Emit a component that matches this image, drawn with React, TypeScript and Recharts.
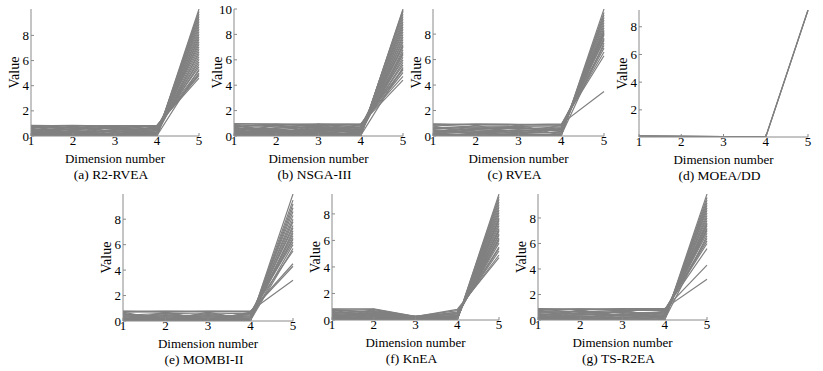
import { LineChart, Line, XAxis, YAxis } from "recharts";

// parallel coordinates: each row is one solution, values on dimensions 1..5
const dims = [1, 2, 3, 4, 5];

const r2rvea = [
  [0.84, 0.8, 0.82, 0.85, 4.6],
  [0.8, 0.84, 0.78, 0.82, 4.8],
  [0.66, 0.82, 0.65, 0.84, 4.9],
  [0.78, 0.62, 0.8, 0.7, 5.0],
  [0.05, 0.82, 0.06, 0.8, 5.2],
  [0.82, 0.06, 0.8, 0.04, 5.3],
  [0.62, 0.7, 0.55, 0.78, 5.5],
  [0.7, 0.55, 0.72, 0.52, 5.7],
  [0.3, 0.76, 0.28, 0.7, 5.9],
  [0.75, 0.28, 0.7, 0.3, 6.1],
  [0.5, 0.5, 0.62, 0.45, 6.3],
  [0.55, 0.12, 0.48, 0.6, 6.5],
  [0.15, 0.6, 0.58, 0.18, 6.7],
  [0.42, 0.35, 0.4, 0.38, 6.9],
  [0.6, 0.2, 0.1, 0.55, 7.1],
  [0.22, 0.45, 0.3, 0.62, 7.3],
  [0.38, 0.15, 0.52, 0.25, 7.5],
  [0.1, 0.3, 0.15, 0.42, 7.7],
  [0.45, 0.05, 0.22, 0.12, 7.9],
  [0.18, 0.4, 0.05, 0.28, 8.1],
  [0.28, 0.22, 0.35, 0.06, 8.3],
  [0.06, 0.18, 0.42, 0.15, 8.5],
  [0.35, 0.08, 0.12, 0.2, 8.7],
  [0.12, 0.26, 0.08, 0.08, 8.9],
  [0.24, 0.1, 0.2, 0.03, 9.1],
  [0.04, 0.12, 0.25, 0.1, 9.3],
  [0.14, 0.04, 0.06, 0.14, 9.5],
  [0.08, 0.14, 0.03, 0.05, 9.7],
  [0.03, 0.06, 0.1, 0.02, 9.9],
  [0.02, 0.02, 0.02, 0.01, 10.1],
];

const nsga3 = [
  [0.98, 0.9, 0.95, 0.92, 4.4],
  [0.95, 0.96, 0.9, 0.96, 4.7],
  [0.9, 0.7, 0.92, 0.85, 5.0],
  [0.05, 0.92, 0.1, 0.94, 5.2],
  [0.75, 0.92, 0.78, 0.9, 5.3],
  [0.92, 0.08, 0.94, 0.05, 5.4],
  [0.72, 0.85, 0.6, 0.8, 5.6],
  [0.8, 0.45, 0.85, 0.6, 5.8],
  [0.4, 0.8, 0.35, 0.88, 6.0],
  [0.85, 0.3, 0.7, 0.4, 6.2],
  [0.6, 0.6, 0.75, 0.5, 6.4],
  [0.35, 0.38, 0.58, 0.35, 6.5],
  [0.65, 0.15, 0.5, 0.7, 6.6],
  [0.2, 0.65, 0.68, 0.2, 6.8],
  [0.5, 0.42, 0.45, 0.45, 7.0],
  [0.58, 0.55, 0.2, 0.55, 7.1],
  [0.7, 0.25, 0.12, 0.65, 7.2],
  [0.28, 0.5, 0.3, 0.72, 7.4],
  [0.45, 0.18, 0.62, 0.28, 7.6],
  [0.12, 0.35, 0.18, 0.5, 7.8],
  [0.55, 0.05, 0.25, 0.15, 8.0],
  [0.22, 0.48, 0.06, 0.32, 8.2],
  [0.32, 0.28, 0.4, 0.08, 8.4],
  [0.08, 0.2, 0.52, 0.18, 8.6],
  [0.42, 0.1, 0.15, 0.25, 8.8],
  [0.15, 0.3, 0.08, 0.1, 9.0],
  [0.3, 0.12, 0.22, 0.04, 9.2],
  [0.05, 0.15, 0.32, 0.12, 9.4],
  [0.18, 0.04, 0.05, 0.16, 9.6],
  [0.1, 0.16, 0.04, 0.06, 9.8],
  [0.03, 0.06, 0.12, 0.02, 9.9],
  [0.02, 0.02, 0.02, 0.01, 10.0],
];

const rvea = [
  [0.92, 0.88, 0.9, 0.95, 3.5],
  [0.95, 0.9, 0.85, 0.9, 6.3],
  [0.85, 0.95, 0.92, 0.85, 6.6],
  [0.88, 0.7, 0.75, 0.8, 6.9],
  [0.06, 0.85, 0.1, 0.88, 7.1],
  [0.8, 0.08, 0.88, 0.06, 7.3],
  [0.7, 0.6, 0.55, 0.72, 7.5],
  [0.6, 0.5, 0.35, 0.65, 7.6],
  [0.55, 0.72, 0.65, 0.5, 7.7],
  [0.4, 0.3, 0.7, 0.35, 7.9],
  [0.3, 0.6, 0.6, 0.38, 8.0],
  [0.65, 0.4, 0.25, 0.6, 8.1],
  [0.5, 0.26, 0.45, 0.5, 8.2],
  [0.25, 0.5, 0.4, 0.45, 8.3],
  [0.45, 0.15, 0.5, 0.2, 8.5],
  [0.15, 0.35, 0.18, 0.3, 8.7],
  [0.35, 0.22, 0.08, 0.12, 8.9],
  [0.1, 0.12, 0.3, 0.22, 9.1],
  [0.2, 0.05, 0.15, 0.08, 9.3],
  [0.05, 0.18, 0.05, 0.15, 9.5],
  [0.12, 0.08, 0.1, 0.04, 9.7],
  [0.03, 0.04, 0.03, 0.03, 9.97],
];

const moeadd = [
  [0.12, 0.09, 0.06, 0.04, 9.2],
  [0.11, 0.08, 0.06, 0.05, 9.18],
  [0.12, 0.1, 0.07, 0.05, 9.21],
];

const mombi2 = [
  [0.78, 0.78, 0.78, 0.78, 3.2],
  [0.75, 0.7, 0.76, 0.74, 4.3],
  [0.7, 0.75, 0.72, 0.76, 4.5],
  [0.05, 0.7, 0.05, 0.7, 5.5],
  [0.7, 0.05, 0.7, 0.05, 5.7],
  [0.6, 0.15, 0.6, 0.15, 6.0],
  [0.15, 0.6, 0.15, 0.6, 6.2],
  [0.45, 0.6, 0.55, 0.62, 6.4],
  [0.5, 0.3, 0.5, 0.3, 6.5],
  [0.3, 0.5, 0.3, 0.5, 6.7],
  [0.4, 0.4, 0.4, 0.4, 6.9],
  [0.55, 0.05, 0.45, 0.1, 7.1],
  [0.05, 0.45, 0.1, 0.55, 7.3],
  [0.25, 0.25, 0.25, 0.25, 7.5],
  [0.35, 0.1, 0.35, 0.1, 7.8],
  [0.1, 0.35, 0.1, 0.35, 8.0],
  [0.2, 0.05, 0.2, 0.05, 8.3],
  [0.05, 0.2, 0.05, 0.2, 8.6],
  [0.12, 0.12, 0.12, 0.12, 8.9],
  [0.08, 0.03, 0.08, 0.03, 9.2],
  [0.03, 0.08, 0.03, 0.08, 9.5],
  [0.02, 0.02, 0.02, 0.02, 9.98],
];

const knea = [
  [0.85, 0.8, 0.25, 0.8, 4.7],
  [0.8, 0.85, 0.28, 0.7, 4.9],
  [0.7, 0.6, 0.22, 0.6, 5.2],
  [0.75, 0.65, 0.28, 0.55, 5.4],
  [0.05, 0.8, 0.2, 0.5, 5.5],
  [0.78, 0.1, 0.3, 0.4, 5.8],
  [0.6, 0.5, 0.18, 0.35, 6.0],
  [0.55, 0.45, 0.24, 0.45, 6.1],
  [0.5, 0.7, 0.25, 0.3, 6.2],
  [0.28, 0.62, 0.16, 0.32, 6.4],
  [0.4, 0.3, 0.15, 0.28, 6.5],
  [0.3, 0.55, 0.22, 0.25, 6.7],
  [0.48, 0.38, 0.22, 0.26, 6.8],
  [0.65, 0.25, 0.2, 0.2, 6.9],
  [0.2, 0.4, 0.12, 0.22, 7.1],
  [0.45, 0.15, 0.26, 0.15, 7.3],
  [0.15, 0.2, 0.1, 0.18, 7.5],
  [0.22, 0.48, 0.14, 0.14, 7.6],
  [0.35, 0.05, 0.2, 0.12, 7.7],
  [0.1, 0.35, 0.08, 0.1, 7.9],
  [0.25, 0.12, 0.18, 0.08, 8.1],
  [0.08, 0.25, 0.12, 0.06, 8.3],
  [0.18, 0.08, 0.06, 0.05, 8.5],
  [0.05, 0.15, 0.15, 0.04, 8.7],
  [0.12, 0.04, 0.05, 0.03, 8.9],
  [0.03, 0.1, 0.04, 0.02, 9.1],
  [0.06, 0.03, 0.03, 0.02, 9.3],
  [0.02, 0.02, 0.02, 0.01, 9.5],
];

const tsr2ea = [
  [0.88, 0.85, 0.9, 0.9, 3.2],
  [0.9, 0.8, 0.85, 0.85, 4.3],
  [0.82, 0.88, 0.8, 0.8, 5.6],
  [0.75, 0.85, 0.75, 0.82, 6.0],
  [0.85, 0.6, 0.78, 0.75, 6.2],
  [0.05, 0.8, 0.08, 0.7, 6.4],
  [0.78, 0.06, 0.8, 0.06, 6.6],
  [0.6, 0.7, 0.55, 0.62, 6.8],
  [0.7, 0.4, 0.65, 0.45, 7.0],
  [0.65, 0.62, 0.4, 0.65, 7.1],
  [0.35, 0.75, 0.3, 0.55, 7.2],
  [0.55, 0.5, 0.7, 0.35, 7.4],
  [0.15, 0.45, 0.4, 0.58, 7.5],
  [0.45, 0.2, 0.45, 0.5, 7.6],
  [0.2, 0.55, 0.6, 0.2, 7.8],
  [0.5, 0.3, 0.2, 0.4, 8.0],
  [0.25, 0.4, 0.35, 0.28, 8.2],
  [0.4, 0.1, 0.5, 0.15, 8.4],
  [0.12, 0.3, 0.15, 0.32, 8.6],
  [0.3, 0.15, 0.1, 0.1, 8.8],
  [0.08, 0.22, 0.25, 0.18, 9.0],
  [0.18, 0.05, 0.05, 0.08, 9.2],
  [0.05, 0.12, 0.18, 0.05, 9.4],
  [0.1, 0.04, 0.08, 0.03, 9.6],
  [0.02, 0.03, 0.03, 0.02, 9.88],
];

const xTicks = [1, 2, 3, 4, 5];
const yTicks8 = [0, 2, 4, 6, 8];
const yTicks10 = [0, 2, 4, 6, 8, 10];
const yTicksDD = [2, 4, 6, 8];

const FONT = "Liberation Serif, Tinos, Times New Roman, Times, serif";
const FRAME = "#8a8a8a";
const STROKE = "#808080";
const YW = 34;
const XH = 40;
const MT = 10;

interface PanelProps {
  caption: string;
  lines: number[][];
  yDomain: [number, number];
  yTicks: number[];
  left: number;
  top: number;
  w: number;
  h: number;
}

function Panel({ caption, lines, yDomain, yTicks, left, top, w, h }: PanelProps) {
  const rows = dims.map((d, j) => {
    const row: Record<string, number> = { dim: d };
    lines.forEach((l, i) => {
      row["s" + i] = l[j];
    });
    return row;
  });
  const tickStyle = { fill: "#000", fontSize: 13, fontFamily: FONT, style: { fontFamily: FONT } };

  return (
    <>
      <div style={{ position: "absolute", left: left - YW, top: top - MT }}>
        <LineChart
          width={w + YW + 8}
          height={h + MT + XH}
          data={rows}
          margin={{ top: MT, right: 8, bottom: 0, left: 0 }}
          style={{ fontFamily: FONT }}
        >
          <XAxis
            xAxisId="b"
            dataKey="dim"
            type="number"
            domain={[1, 5]}
            ticks={xTicks}
            interval={0}
            height={XH}
            stroke={FRAME}
            tickSize={-3}
            tickMargin={3}
            tick={tickStyle}
            label={{ value: "Dimension number", position: "insideTop", offset: 18, ...tickStyle }}
          />
          <XAxis
            xAxisId="t"
            orientation="top"
            dataKey="dim"
            type="number"
            domain={[1, 5]}
            ticks={xTicks}
            interval={0}
            height={0}
            stroke={FRAME}
            tickSize={-3}
            tick={false}
          />
          <YAxis
            yAxisId="l"
            type="number"
            domain={yDomain}
            ticks={yTicks}
            interval={0}
            allowDataOverflow
            width={YW}
            stroke={FRAME}
            tickSize={-3}
            tickMargin={5}
            tick={tickStyle}
            label={{ value: "Value", angle: -90, position: "center", ...tickStyle, fontSize: 14 }}
          />
          <YAxis
            yAxisId="r"
            orientation="right"
            type="number"
            domain={yDomain}
            ticks={yTicks}
            interval={0}
            allowDataOverflow
            width={0}
            stroke={FRAME}
            tickSize={-3}
            tick={false}
          />
          {lines.map((_, i) => (
            <Line
              key={i}
              xAxisId="b"
              yAxisId="l"
              dataKey={"s" + i}
              stroke={STROKE}
              strokeWidth={1.2}
              dot={false}
              activeDot={false}
              isAnimationActive={false}
            />
          ))}
        </LineChart>
      </div>
      <div
        style={{
          position: "absolute",
          left: left - 14,
          top: top + h + 31,
          width: w + 20,
          height: 16,
          lineHeight: "16px",
          fontSize: 13.5,
          textAlign: "center",
          color: "#000",
        }}
      >
        {caption}
      </div>
    </>
  );
}

export default function App() {
  return (
    <div
      style={{
        position: "absolute",
        left: 0,
        top: 0,
        width: 823,
        height: 371,
        background: "#fff",
        fontFamily: FONT,
        overflow: "hidden",
      }}
    >
      <Panel caption="(a) R2-RVEA" lines={r2rvea} yDomain={[0, 10.1]} yTicks={yTicks8} left={31} top={9} w={168} h={127} />
      <Panel caption="(b) NSGA-III" lines={nsga3} yDomain={[0, 10]} yTicks={yTicks10} left={234} top={9} w={169} h={127} />
      <Panel caption="(c) RVEA" lines={rvea} yDomain={[0, 9.97]} yTicks={yTicks8} left={433} top={9} w={171} h={127} />
      <Panel caption="(d) MOEA/DD" lines={moeadd} yDomain={[0.04, 9.21]} yTicks={yTicksDD} left={639} top={10} w={169} h={127} />
      <Panel caption="(e) MOMBI-II" lines={mombi2} yDomain={[0, 9.98]} yTicks={yTicks8} left={123} top={194} w={170} h={127} />
      <Panel caption="(f) KnEA" lines={knea} yDomain={[0, 9.5]} yTicks={yTicks8} left={332} top={194} w={167} h={126} />
      <Panel caption="(g) TS-R2EA" lines={tsr2ea} yDomain={[0, 9.88]} yTicks={yTicks8} left={538} top={194} w={169} h={126} />
    </div>
  );
}
